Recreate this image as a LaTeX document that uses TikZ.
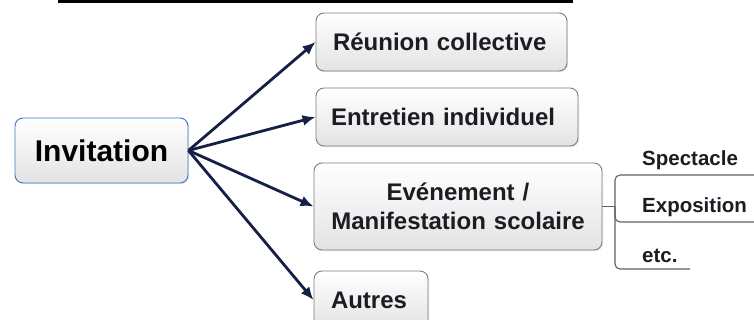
\documentclass[tikz,border=0pt]{standalone}
\usepackage{fontspec}
\setmainfont{Liberation Sans}
\usetikzlibrary{arrows.meta,shadows}
\definecolor{arrowblue}{RGB}{22,32,70}
\definecolor{boxgray}{RGB}{125,125,125}
\definecolor{rootblue}{RGB}{58,118,200}
\definecolor{branchgray}{RGB}{95,95,95}
\definecolor{textdark}{RGB}{28,28,36}
\tikzset{
  box/.style={draw=boxgray, line width=0.9pt, rounded corners=8pt,
    top color=white, bottom color=black!11,
    drop shadow={opacity=0.18, shadow xshift=1.2pt, shadow yshift=-1.2pt},
    font=\bfseries\fontsize{24}{29}\selectfont, text=textdark,
    inner xsep=17pt, inner ysep=0pt, minimum height=58pt, align=left},
  link/.style={line width=2.8pt, arrowblue, -{Latex[length=13pt,width=11pt]}},
  branch/.style={line width=1.1pt, branchgray, rounded corners=5pt},
  item/.style={font=\bfseries\fontsize{20.5}{24}\selectfont, text=textdark,
    inner sep=0pt, anchor=base west},
}
\begin{document}
\begin{tikzpicture}[x=1pt,y=-1pt]
  \useasboundingbox (0,0) rectangle (754,320);
  \clip (0,0) rectangle (754,320);
  % heading rule
  \fill[black] (58,0) rectangle (573,2.7);
  % root
  \node[box, draw=rootblue, inner xsep=0pt, minimum width=173pt, minimum height=65pt,
    font=\bfseries\fontsize{30}{36}\selectfont, text={RGB:red,25;green,30;blue,58}] (inv) at (101.5,150.5) {Invitation};
  % targets
  \node[box, text width=217pt] (reu) at (441.5,42) {Réunion collective};
  \node[box, text width=232pt, inner xsep=15pt] (ent) at (447,117) {Entretien individuel};
  \node[box, text width=254pt, minimum height=87pt, align=center] (eve) at (458,206.5) {Evénement /\\Manifestation scolaire};
  \node[box, text width=80pt] (aut) at (371,300) {Autres};
  % arrows
  \draw[link] (inv.east) -- (reu.west);
  \draw[link] (inv.east) -- (ent.west);
  \draw[link] (inv.east) -- (eve.west);
  \draw[link] (inv.east) -- (aut.west);
  % sub items
  \coordinate (jn) at (615,206.5);
  \coordinate (s1) at (754,175);
  \coordinate (s2) at (754,222);
  \coordinate (s3) at (690,269);
  \draw[branch] (eve.east) -- (jn);
  \draw[branch] (jn) |- (s1);
  \draw[branch] (jn) |- (s2);
  \draw[branch] (jn) |- (s3);
  \node[item] (spe) at (642,166) {Spectacle};
  \node[item] (exp) at (642,213) {Exposition};
  \node[item] (etc) at (642,262) {etc.};
\end{tikzpicture}
\end{document}
